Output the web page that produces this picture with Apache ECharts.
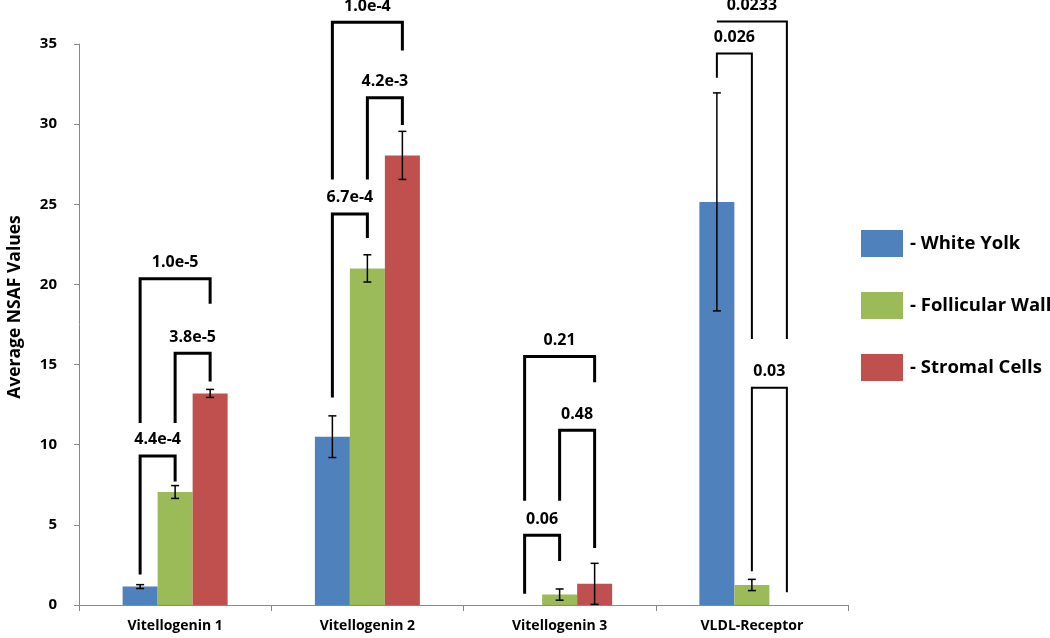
<!DOCTYPE html>
<html>
<head>
<meta charset="utf-8">
<script src="https://cdn.jsdelivr.net/npm/echarts@6/dist/echarts.min.js"></script>
<style>
  html, body { margin: 0; padding: 0; background: #fff; }
  #chart { width: 1050px; height: 638px; }
</style>
</head>
<body>
<div id="chart"></div>
<script>
// categories and series
const categories = ['Vitellogenin 1', 'Vitellogenin 2', 'Vitellogenin 3', 'VLDL-Receptor'];
const seriesNames = ['White Yolk', 'Follicular Wall', 'Stromal Cells'];
const whiteYolk = [1.15, 10.5, 0, 25.15];
const follicularWall = [7.05, 21.0, 0.65, 1.25];
const stromalCells = [13.2, 28.05, 1.32, 0];
// +/- error
const whiteYolkErr = [0.12, 1.3, 0, 6.8];
const follicularWallErr = [0.4, 0.85, 0.35, 0.35];
const stromalCellsErr = [0.25, 1.5, 1.28, 0];
const yTicks = [0, 5, 10, 15, 20, 25, 30, 35];

// significance brackets: [category, left series, right series, top, left leg end, right leg end, p]
const brackets = [
  [0, 0, 1, 9.3, 1.9, 7.7, '4.4e-4'],
  [0, 1, 2, 15.7, 11.35, 13.95, '3.8e-5'],
  [0, 0, 2, 20.35, 11.35, 18.8, '1.0e-5'],
  [1, 0, 1, 24.4, 12.95, 22.9, '6.7e-4'],
  [1, 1, 2, 31.65, 26.55, 29.95, '4.2e-3'],
  [1, 0, 2, 36.35, 26.55, 34.6, '1.0e-4'],
  [2, 0, 1, 4.35, 0.7, 2.75, '0.06'],
  [2, 1, 2, 10.9, 6.5, 3.55, '0.48'],
  [2, 0, 2, 15.5, 6.5, 13.9, '0.21'],
  [3, 0, 1, 34.4, 32.9, 16.6, '0.026'],
  [3, 1, 2, 13.55, 2.1, 0.8, '0.03'],
  [3, 0, 2, 36.4, 36.4, 16.6, '0.0233']
];

const colors = ['#4F81BD', '#9BBB59', '#C0504D'];
const BAR_W = 35;
const FONT = '"Open Sans", "DejaVu Sans", sans-serif';

const values = [whiteYolk, follicularWall, stromalCells];
const errs = [whiteYolkErr, follicularWallErr, stromalCellsErr];

let chart = echarts.init(document.getElementById('chart'));

// 误差线
const errorSeries = values.map((vals, s) => ({
  type: 'custom',
  name: seriesNames[s] + ' err',
  z: 5,
  data: vals.map((v, i) => [i, v, errs[s][i]]),
  renderItem: function (params, api) {
    const i = api.value(0), v = api.value(1), e = api.value(2);
    if (!e) return;
    const hi = api.coord([i, v + e]);
    const lo = api.coord([i, v - e]);
    const x = hi[0] + (s - 1) * BAR_W;
    const cap = 4;
    const st = { stroke: '#000', lineWidth: 1.5 };
    return {
      type: 'group',
      children: [
        { type: 'line', shape: { x1: x, y1: hi[1], x2: x, y2: lo[1] }, style: st },
        { type: 'line', shape: { x1: x - cap, y1: hi[1], x2: x + cap, y2: hi[1] }, style: st },
        { type: 'line', shape: { x1: x - cap, y1: lo[1], x2: x + cap, y2: lo[1] }, style: st }
      ]
    };
  }
}));

// 显著性括号
const bracketSeries = {
  type: 'custom',
  name: 'brackets',
  z: 6,
  data: brackets.map(b => b.slice(0, 6)),
  renderItem: function (params, api) {
    const b = brackets[params.dataIndex];
    const c = b[0];
    const top = api.coord([c, b[3]]);
    const xl = top[0] + (b[1] - 1) * BAR_W;
    const xr = top[0] + (b[2] - 1) * BAR_W;
    const yl = api.coord([c, b[4]])[1];
    const yr = api.coord([c, b[5]])[1];
    const lw = c === 3 ? 2 : 3;
    return {
      type: 'group',
      children: [
        {
          type: 'polyline',
          shape: { points: [[xl, yl], [xl, top[1]], [xr, top[1]], [xr, yr]] },
          style: { stroke: '#000', lineWidth: lw, fill: null }
        },
        {
          type: 'text',
          x: (xl + xr) / 2,
          y: top[1] - 16,
          style: {
            text: b[6],
            fill: '#000',
            font: 'bold 16px ' + FONT,
            align: 'center',
            verticalAlign: 'middle'
          }
        }
      ]
    };
  }
};

let option = {
  animation: false,
  backgroundColor: '#fff',
  color: colors,
  grid: { left: 79, right: 202, top: 44, bottom: 33 },
  legend: {
    data: seriesNames,
    orient: 'vertical',
    left: 856,
    top: 225,
    itemWidth: 42,
    itemHeight: 27,
    itemGap: 35,
    icon: 'rect',
    formatter: name => '- ' + name,
    textStyle: { fontSize: 18.5, fontWeight: 'bold', color: '#000', fontFamily: FONT, padding: [0, 0, 0, 2] }
  },
  xAxis: {
    type: 'category',
    data: categories,
    axisLine: { lineStyle: { color: '#888', width: 1 } },
    axisTick: { show: true, length: 6, lineStyle: { color: '#888' } },
    axisLabel: { fontSize: 14, fontWeight: 'bold', color: '#000', fontFamily: FONT, margin: 14 }
  },
  yAxis: {
    type: 'value',
    min: 0,
    max: 35,
    interval: 5,
    splitLine: { show: false },
    axisLine: { show: true, lineStyle: { color: '#888', width: 1 } },
    axisTick: { show: true, length: 5, lineStyle: { color: '#888' } },
    axisLabel: {
      fontSize: 15, fontWeight: 'bold', color: '#000', fontFamily: FONT, margin: 22,
      formatter: v => (yTicks.indexOf(v) >= 0 ? String(v) : '')
    }
  },
  graphic: [{
    type: 'text',
    x: 15,
    y: 307,
    rotation: Math.PI / 2,
    style: {
      text: 'Average NSAF Values',
      fill: '#000',
      font: 'bold 17.5px ' + FONT,
      align: 'center',
      verticalAlign: 'middle'
    }
  }],
  series: values.map((vals, s) => ({
    type: 'bar',
    name: seriesNames[s],
    data: vals,
    barWidth: BAR_W,
    barGap: '0%',
    itemStyle: { color: colors[s] }
  })).concat(errorSeries, [bracketSeries])
};

chart.setOption(option);
</script>
</body>
</html>
